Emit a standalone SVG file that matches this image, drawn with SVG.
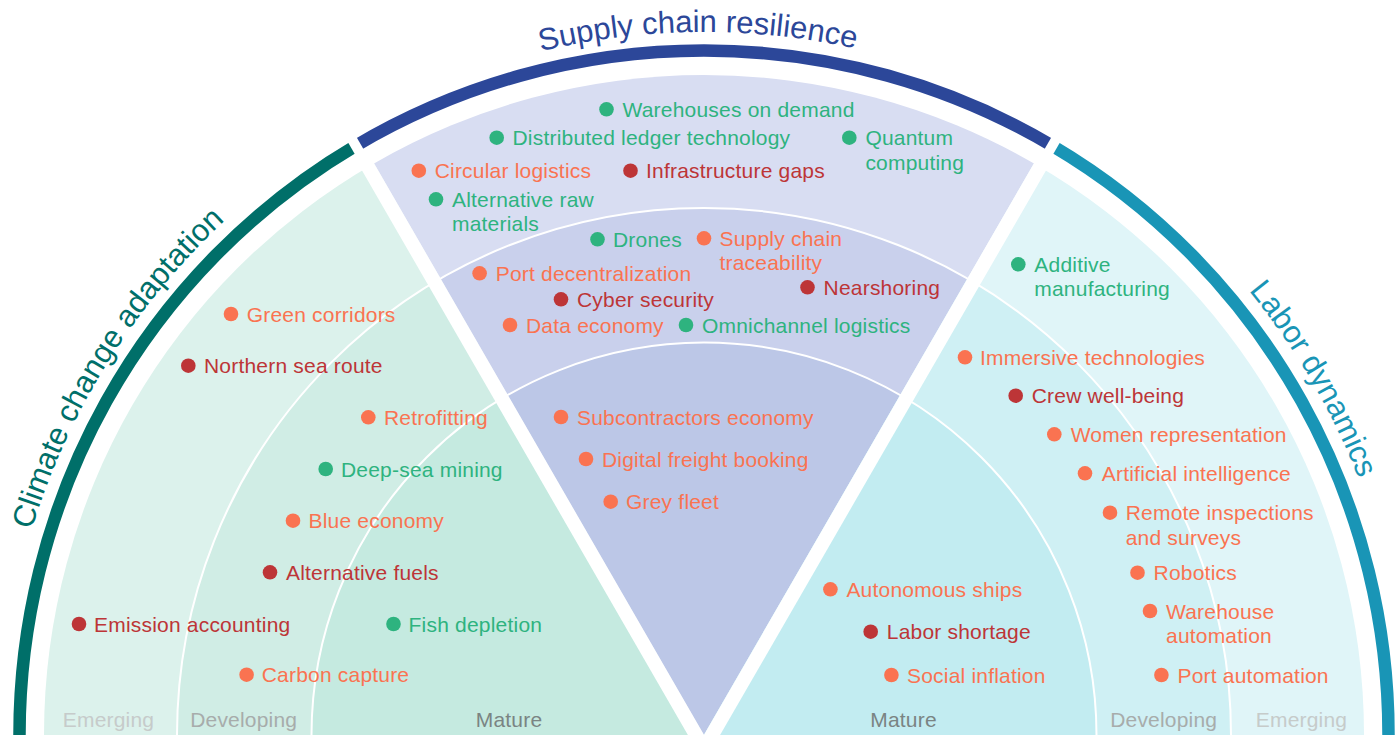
<svg xmlns="http://www.w3.org/2000/svg" width="1400" height="735" viewBox="0 0 1400 735">
  <defs>
    <style>
      .lbl { font-family: "Liberation Sans", Arial, sans-serif; font-size: 21px; letter-spacing: 0.2px; }
      .o { fill: #FA7351; }
      .r { fill: #BD3537; }
      .g { fill: #2EB37F; }
      .title { font-family: "Liberation Sans", Arial, sans-serif; font-size: 31px; }
      .stage { font-family: "Liberation Sans", Arial, sans-serif; font-size: 21px; letter-spacing: 0.2px; text-anchor: middle; }
      .ring { fill: none; stroke: #FFFFFF; stroke-width: 2; }
      .strip { stroke: #FFFFFF; stroke-width: 14; }
      .gap { stroke: #FFFFFF; stroke-width: 10; }
      .band { fill: none; stroke-width: 12.5; }
    </style>
    <!-- baselines for the curved titles, radius 703 around the hub at (704,735) -->
    <path id="arcClimate" d="M1.43,710.47 A703,703 0 0 1 373.96,114.29"/>
    <path id="arcSupply" d="M347.20,129.27 A703,703 0 0 1 1050.17,123.14"/>
    <path id="arcLabor" d="M1052.31,124.35 A703,703 0 0 1 1406.99,731.32"/>
  </defs>

  <rect width="1400" height="735" fill="#FFFFFF"/>

  <!-- sector fills: emerging (outer), developing, mature (inner) -->
  <g id="sector-climate">
    <path d="M704,735 L44,735 A660,660 0 0 1 374,163.42 Z" fill="#DCF2EC"/>
    <path d="M704,735 L177,735 A527,527 0 0 1 440.5,278.61 Z" fill="#D0EDE5"/>
    <path d="M704,735 L311.5,735 A392.5,392.5 0 0 1 507.75,395.08 Z" fill="#C5EAE0"/>
  </g>
  <g id="sector-supply">
    <path d="M704,735 L374,163.42 A660,660 0 0 1 1034,163.42 Z" fill="#D8DDF2"/>
    <path d="M704,735 L440.5,278.61 A527,527 0 0 1 967.5,278.61 Z" fill="#C9D0EC"/>
    <path d="M704,735 L507.75,395.08 A392.5,392.5 0 0 1 900.25,395.08 Z" fill="#BCC7E7"/>
  </g>
  <g id="sector-labor">
    <path d="M704,735 L1034,163.42 A660,660 0 0 1 1364,735 Z" fill="#E0F5F8"/>
    <path d="M704,735 L967.5,278.61 A527,527 0 0 1 1231,735 Z" fill="#CFF0F4"/>
    <path d="M704,735 L900.25,395.08 A392.5,392.5 0 0 1 1096.5,735 Z" fill="#C2ECF1"/>
  </g>

  <!-- ring dividers -->
  <g id="rings">
    <path class="ring" d="M177,735 A527,527 0 0 1 1231,735"/>
    <path class="ring" d="M311.5,735 A392.5,392.5 0 0 1 1096.5,735"/>
  </g>

  <!-- white separators between sectors -->
  <g id="separators">
    <line class="strip" x1="706" y1="752.3" x2="360" y2="153"/>
    <line class="strip" x1="702" y1="752.3" x2="1048" y2="153"/>
  </g>

  <!-- outer category bands -->
  <g id="bands">
    <path class="band" stroke="#006F69" d="M19.6,746.95 A684.5,684.5 0 0 1 355.56,145.82"/>
    <path class="band" stroke="#2C4799" d="M355.56,145.82 A684.5,684.5 0 0 1 1052.44,145.82"/>
    <path class="band" stroke="#1995B6" d="M1052.44,145.82 A684.5,684.5 0 0 1 1388.4,746.95"/>
    <line class="gap" x1="365" y1="161.71" x2="341" y2="120.14"/>
    <line class="gap" x1="1043" y1="161.71" x2="1067" y2="120.14"/>
  </g>

  <!-- category titles -->
  <g id="titles">
    <text class="title" fill="#006F69"><textPath href="#arcClimate" startOffset="50%" text-anchor="middle">Climate change adaptation</textPath></text>
    <text class="title" fill="#2C4799"><textPath href="#arcSupply" startOffset="50%" text-anchor="middle">Supply chain resilience</textPath></text>
    <text class="title" fill="#1995B6"><textPath href="#arcLabor" startOffset="50%" text-anchor="middle">Labor dynamics</textPath></text>
  </g>

  <!-- maturity stage captions -->
  <g id="stages">
    <text class="stage" x="108.5" y="726.5" fill="#C6CBCA">Emerging</text>
    <text class="stage" x="243.7" y="726.5" fill="#A7ACAB">Developing</text>
    <text class="stage" x="509" y="726.5" fill="#7A8483">Mature</text>
    <text class="stage" x="903.5" y="726.5" fill="#7A8483">Mature</text>
    <text class="stage" x="1163.7" y="726.5" fill="#A7ACAB">Developing</text>
    <text class="stage" x="1301.5" y="726.5" fill="#C6CBCA">Emerging</text>
  </g>

  <!-- Supply chain resilience trends -->
  <g id="warehouses-on-demand"><circle class="g" cx="606.5" cy="109.3" r="7.3"/><text class="lbl g" x="622.5" y="116.8">Warehouses on demand</text></g>
  <g id="distributed-ledger"><circle class="g" cx="496.7" cy="137.7" r="7.3"/><text class="lbl g" x="512.5" y="145.2">Distributed ledger technology</text></g>
  <g id="quantum-computing"><circle class="g" cx="849.3" cy="137.7" r="7.3"/><text class="lbl g" x="865.4" y="145.2">Quantum<tspan x="865.4" dy="24.5">computing</tspan></text></g>
  <g id="circular-logistics"><circle class="o" cx="418.8" cy="170.7" r="7.3"/><text class="lbl o" x="434.7" y="178.2">Circular logistics</text></g>
  <g id="infrastructure-gaps"><circle class="r" cx="630.5" cy="170.7" r="7.3"/><text class="lbl r" x="646" y="178.2">Infrastructure gaps</text></g>
  <g id="alternative-raw-materials"><circle class="g" cx="436" cy="199.3" r="7.3"/><text class="lbl g" x="452" y="206.8">Alternative raw<tspan x="452" dy="24.5">materials</tspan></text></g>
  <g id="drones"><circle class="g" cx="597.5" cy="239.3" r="7.3"/><text class="lbl g" x="613" y="246.8">Drones</text></g>
  <g id="supply-chain-traceability"><circle class="o" cx="704" cy="238.3" r="7.3"/><text class="lbl o" x="719.5" y="245.8">Supply chain<tspan x="719.5" dy="24.5">traceability</tspan></text></g>
  <g id="port-decentralization"><circle class="o" cx="479.6" cy="273.3" r="7.3"/><text class="lbl o" x="495.7" y="280.8">Port decentralization</text></g>
  <g id="nearshoring"><circle class="r" cx="807.5" cy="287.3" r="7.3"/><text class="lbl r" x="823.6" y="294.8">Nearshoring</text></g>
  <g id="cyber-security"><circle class="r" cx="561" cy="299.3" r="7.3"/><text class="lbl r" x="577" y="306.8">Cyber security</text></g>
  <g id="data-economy"><circle class="o" cx="510" cy="325" r="7.3"/><text class="lbl o" x="526" y="332.5">Data economy</text></g>
  <g id="omnichannel-logistics"><circle class="g" cx="686" cy="325" r="7.3"/><text class="lbl g" x="702" y="332.5">Omnichannel logistics</text></g>
  <g id="subcontractors-economy"><circle class="o" cx="561" cy="417" r="7.3"/><text class="lbl o" x="577" y="424.5">Subcontractors economy</text></g>
  <g id="digital-freight-booking"><circle class="o" cx="586" cy="459" r="7.3"/><text class="lbl o" x="602" y="466.5">Digital freight booking</text></g>
  <g id="grey-fleet"><circle class="o" cx="610.7" cy="501.7" r="7.3"/><text class="lbl o" x="626" y="509.2">Grey fleet</text></g>

  <!-- Climate change adaptation trends -->
  <g id="green-corridors"><circle class="o" cx="231" cy="314" r="7.3"/><text class="lbl o" x="246.7" y="321.5">Green corridors</text></g>
  <g id="northern-sea-route"><circle class="r" cx="188.3" cy="365.7" r="7.3"/><text class="lbl r" x="204" y="373.2">Northern sea route</text></g>
  <g id="retrofitting"><circle class="o" cx="368.3" cy="417.3" r="7.3"/><text class="lbl o" x="384" y="424.8">Retrofitting</text></g>
  <g id="deep-sea-mining"><circle class="g" cx="325.7" cy="469" r="7.3"/><text class="lbl g" x="341" y="476.5">Deep-sea mining</text></g>
  <g id="blue-economy"><circle class="o" cx="293" cy="520.7" r="7.3"/><text class="lbl o" x="308.5" y="528.2">Blue economy</text></g>
  <g id="alternative-fuels"><circle class="r" cx="270" cy="572.3" r="7.3"/><text class="lbl r" x="286" y="579.8">Alternative fuels</text></g>
  <g id="emission-accounting"><circle class="r" cx="79" cy="624" r="7.3"/><text class="lbl r" x="94" y="631.5">Emission accounting</text></g>
  <g id="fish-depletion"><circle class="g" cx="393.5" cy="624" r="7.3"/><text class="lbl g" x="408.6" y="631.5">Fish depletion</text></g>
  <g id="carbon-capture"><circle class="o" cx="246.6" cy="674.7" r="7.3"/><text class="lbl o" x="261.7" y="682.2">Carbon capture</text></g>

  <!-- Labor dynamics trends -->
  <g id="additive-manufacturing"><circle class="g" cx="1018.3" cy="264.3" r="7.3"/><text class="lbl g" x="1034.3" y="271.8">Additive<tspan x="1034.3" dy="24.5">manufacturing</tspan></text></g>
  <g id="immersive-technologies"><circle class="o" cx="965" cy="357.3" r="7.3"/><text class="lbl o" x="980" y="364.8">Immersive technologies</text></g>
  <g id="crew-well-being"><circle class="r" cx="1015.7" cy="395.7" r="7.3"/><text class="lbl r" x="1031.7" y="403.2">Crew well-being</text></g>
  <g id="women-representation"><circle class="o" cx="1054.3" cy="434.3" r="7.3"/><text class="lbl o" x="1070.7" y="441.8">Women representation</text></g>
  <g id="artificial-intelligence"><circle class="o" cx="1085" cy="473.3" r="7.3"/><text class="lbl o" x="1101.8" y="480.8">Artificial intelligence</text></g>
  <g id="remote-inspections"><circle class="o" cx="1110" cy="512.7" r="7.3"/><text class="lbl o" x="1125.7" y="520.2">Remote inspections<tspan x="1125.7" dy="24.5">and surveys</tspan></text></g>
  <g id="robotics"><circle class="o" cx="1137.5" cy="572.7" r="7.3"/><text class="lbl o" x="1153.6" y="580.2">Robotics</text></g>
  <g id="warehouse-automation"><circle class="o" cx="1150" cy="611" r="7.3"/><text class="lbl o" x="1166" y="618.5">Warehouse<tspan x="1166" dy="24.5">automation</tspan></text></g>
  <g id="port-automation"><circle class="o" cx="1161.4" cy="675" r="7.3"/><text class="lbl o" x="1177.5" y="682.5">Port automation</text></g>
  <g id="autonomous-ships"><circle class="o" cx="830.4" cy="589.3" r="7.3"/><text class="lbl o" x="846.4" y="596.8">Autonomous ships</text></g>
  <g id="labor-shortage"><circle class="r" cx="870.7" cy="631.7" r="7.3"/><text class="lbl r" x="886.8" y="639.2">Labor shortage</text></g>
  <g id="social-inflation"><circle class="o" cx="891.4" cy="675" r="7.3"/><text class="lbl o" x="907" y="682.5">Social inflation</text></g>
</svg>
